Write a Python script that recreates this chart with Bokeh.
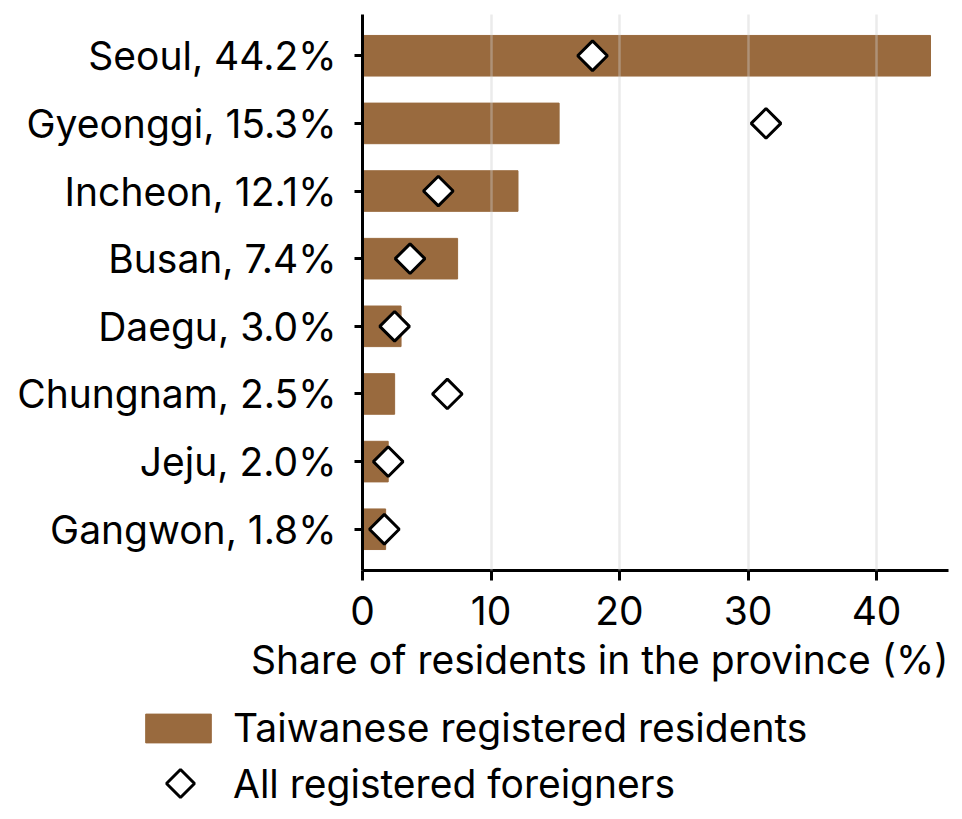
import numpy as np
from bokeh.plotting import figure
from bokeh.layouts import column
from bokeh.models import (ColumnDataSource, FactorRange, Range1d, Legend, LegendItem,
                          FixedTicker, Title)
from bokeh.embed import file_html
from bokeh.resources import INLINE

# shares (%) by province
provinces = ["Seoul", "Gyeonggi", "Incheon", "Busan", "Daegu", "Chungnam", "Jeju", "Gangwon"]
taiwanese_share = [44.2, 15.3, 12.1, 7.4, 3.0, 2.5, 2.0, 1.8]
all_foreigners_share = [17.9, 31.4, 5.9, 3.7, 2.5, 6.6, 2.0, 1.7]
x_ticks = [0, 10, 20, 30, 40]

FONT = "Inter"
FS = "39px"
BAR_COLOR = "#996a3e"

labels = [f"{n}, {v:.1f}%" for n, v in zip(provinces, taiwanese_share)]
src = ColumnDataSource(dict(label=labels, tw=taiwanese_share, allf=all_foreigners_share))

p = figure(width=956, height=700, output_backend="svg", toolbar_location=None,
           y_range=FactorRange(factors=labels[::-1], range_padding=0.11,
                               range_padding_units="absolute"),
           x_range=Range1d(0, 45.6),
           min_border_left=362, min_border_right=8, min_border_top=14,
           min_border_bottom=130)
p.outline_line_color = None
p.frame_align = False

bar_style = dict(color=BAR_COLOR)
dot_style = dict(fill_color="white", line_color="black", line_width=3)

p.hbar(y="label", left=0, right="tw", height=0.6, source=src, **bar_style)
p.scatter(y="label", x="allf", marker="square", angle=np.pi / 4, size=21,
          source=src, **dot_style)

# grid drawn over the bars, like the original
p.ygrid.visible = False
p.xgrid.ticker = FixedTicker(ticks=x_ticks[1:])
p.xgrid.grid_line_color = "#cccccc"
p.xgrid.grid_line_alpha = 0.4
p.xgrid.grid_line_width = 2.5
p.xgrid.level = "overlay"

for ax in (p.xaxis, p.yaxis):
    ax.axis_line_width = 3
    ax.major_tick_line_width = 3
    ax.major_tick_in = 0
    ax.minor_tick_line_color = None
    ax.major_label_text_font = FONT
    ax.major_label_text_font_size = FS
    ax.major_label_text_color = "black"

p.xaxis.ticker = x_ticks
p.xaxis.major_tick_out = 10
p.xaxis.major_label_standoff = 15

p.yaxis.major_tick_out = 8
p.yaxis.major_label_standoff = 18

# x label, right aligned to the end of the axis
p.add_layout(Title(text="Share of residents in the province (%)", align="right",
                   text_font=FONT, text_font_size=FS, text_font_style="normal",
                   text_color="black", standoff=13), "below")

# legend lives in its own strip under the chart; its renderers are hidden copies
leg = figure(width=956, height=119, output_backend="svg", toolbar_location=None,
             x_range=Range1d(0, 50), y_range=FactorRange(factors=labels),
             x_axis_location=None, y_axis_location=None, min_border=0)
leg.frame_align = False
leg.outline_line_color = None
leg.xgrid.visible = False
leg.ygrid.visible = False
r_bar = leg.hbar(y="label", left=0, right="tw", height=0.6, source=src,
                 visible=False, **bar_style)
# legend keys ignore a marker's angle; a 4-gon gives the rotated square directly
try:
    r_dot = leg.ngon(y="label", x="allf", n=4, radius=14, radius_units="screen",
                     source=src, visible=False, **dot_style)
except Exception:
    r_dot = leg.scatter(y="label", x="allf", marker="diamond", size=21, source=src,
                        visible=False, **dot_style)

common = dict(margin=0, spacing=0, padding=0,
              label_text_font=FONT, label_text_font_size=FS, label_text_color="black",
              border_line_alpha=0, background_fill_alpha=0, inactive_fill_alpha=0)
leg1 = Legend(items=[LegendItem(label="Taiwanese registered residents", renderers=[r_bar])],
              location=(137, 68), glyph_width=82, glyph_height=36, label_standoff=14,
              **common)
leg2 = Legend(items=[LegendItem(label="All registered foreigners", renderers=[r_dot])],
              location=(145, 1), glyph_width=70, glyph_height=70, label_standoff=18,
              **common)
leg.add_layout(leg1)
leg.add_layout(leg2)

open("out.html", "w").write(file_html(column(p, leg), INLINE))
